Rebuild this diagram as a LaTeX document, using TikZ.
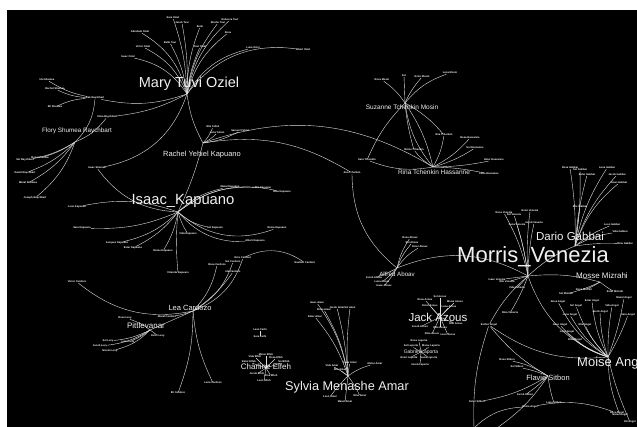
\documentclass[tikz,border=0pt]{standalone}
\usepackage{fontspec}
\setmainfont{Liberation Sans}
\usetikzlibrary{positioning}
\tikzstyle{every node}+=[inner sep=0pt]
\tikzstyle{leaf} = [text=white, font=\bfseries\fontsize{2.6}{3}\selectfont]
\tikzstyle{hub} = [text=white!94!black]
\tikzstyle{line} = [draw=white!88!black, line width=0.4pt]

\begin{document}
\begin{tikzpicture}[x=1pt, y=-1pt]
  % Frame
  \useasboundingbox (0,0) rectangle (637,427);
  \fill[white] (0,0) rectangle (637,427);
  \fill[black] (7,10) rectangle (637,427);
  % Hub points
  \coordinate (maryc) at (187,94);
  \coordinate (floryc) at (75,142);
  \coordinate (rachelc) at (203,143);
  \coordinate (isaacc) at (178,212);
  \coordinate (leac) at (193,311);
  \coordinate (pittc) at (150,330);
  \coordinate (charc) at (266,368);
  \coordinate (sylviac) at (348,376);
  \coordinate (alfredc) at (397,268);
  \coordinate (jackc) at (440,317);
  \coordinate (gabrc) at (421,352);
  \coordinate (morrisc) at (528,276);
  \coordinate (darioc) at (575,246);
  \coordinate (mossec) at (600,282);
  \coordinate (moisec) at (608,357);
  \coordinate (flaviec) at (548,376);
  \coordinate (suzc) at (405,103);
  \coordinate (rinac) at (433,167);
  \coordinate (bot1) at (474,428);
  \coordinate (bot2) at (497,428);
  % Shared nodes
  \node [leaf] (fs1) at (95,98) {Isak Raychbart};
  \node [leaf] (fs2) at (107,117) {Clara Raychbart};
  \node [leaf] (fs3) at (97,168) {Isaac Shumea};
  \node [leaf] (fl1) at (47,80) {Ida Shumea};
  \node [leaf] (fl2) at (55,89) {Rachel Shumea};
  \node [leaf] (fl3) at (55,107) {Eli Shumea};
  \node [leaf] (ana) at (352,173) {Ana Tchenkin};
  \node [leaf] (ena) at (444,135) {Ena Tchenkin};
  \node [leaf] (mid) at (414,150) {Moise Tchenkin};
  \node [leaf] (sara) at (367,160) {Sara Tchenkin};
  \node [leaf] (esther) at (489,325) {Esther Angel};
  \node [leaf] (reuben) at (305,263) {Reuben Cardozo};
  \node [leaf] (reina) at (530,407) {Reina Angel};
  \node [leaf] (dora) at (617,413) {Dora Angel};
  \node [leaf] (farhi1) at (260,330) {Leon Farhi};
  \node [leaf] (farhi2) at (260,337) {Sara Farhi};
  % Fans
  \foreach \x/\y/\b/\t [count=\i] in {173/18/-8/Sara Oziel, 182/23/-6/Jacob Tuvi,
      200/27/10/Ester, 218/23/14/Moshe Tuvi, 230/20/18/Rebecca Tuvi,
      140/32/-22/Abraham Oziel, 228/33/18/Rosa, 143/47/-20/Victor Oziel,
      170/43/-10/Bella Tuvi, 200/47/8/Tuvi Oziel, 253/48/22/Luna Oziel,
      303/50/30/Albert Oziel, 128/57/-22/Isaac Oziel}{
    \node [leaf] (mary\i) at (\x,\y) {\t};
    \path [line] (maryc) to[bend left=\b] (mary\i);
  }
  \foreach \x/\y/\b/\t [count=\i] in {25/160/10/Sol Raychbart, 40/158/8/Rosa Shumea,
      25/173/12/David Raychbart, 28/183/12/Mazal Shumea, 35/198/15/Joseph Raychbart}{
    \node [leaf] (flory\i) at (\x,\y) {\t};
    \path [line] (floryc) to[bend left=\b] (flory\i);
  }
  \foreach \x/\y/\b/\t [count=\i] in {213/127/-10/Elie Yehiel, 217/133/-10/Luna Yehiel,
      240/131/-10/Samuel Yehiel}{
    \node [leaf] (rachel\i) at (\x,\y) {\t};
    \path [line] (rachelc) to[bend left=\b] (rachel\i);
  }
  \foreach \x/\y/\b/\t [count=\i] in {77/207/-15/Leon Kapuano, 230/187/15/Mazal Kapuano,
      263/188/20/Elie Kapuano, 282/192/25/Rina Kapuano, 82/228/12/Sara Kapuano,
      117/243/15/Jacques Kapuano, 133/248/12/Ester Kapuano, 163/251/10/Moise Kapuano,
      188/234/-8/Vida Kapuano, 215/228/-15/Sol Kapuano, 255/241/-25/Albert Kapuano,
      277/228/-30/Reina Kapuano, 178/273/-5/Yolanda Kapuano}{
    \node [leaf] (isaac\i) at (\x,\y) {\t};
    \path [line] (isaacc) to[bend left=\b] (isaac\i);
  }
  \foreach \x/\y/\b/\t [count=\i] in {77/282/25/Victor Cardozo, 217/265/-15/Rosa Cardozo,
      233/262/-20/Sol Cardozo, 243/258/-25/Ezra Cardozo, 233/272/-10/Ida Cardozo,
      213/383/-10/Luna Cardozo, 178/393/10/Eli Cardozo, 167/317/5/Mazal Cardozo}{
    \node [leaf] (lea\i) at (\x,\y) {\t};
    \path [line] (leac) to[bend left=\b] (lea\i);
  }
  \foreach \x/\y/\b/\t [count=\i] in {125/318/-10/Rosa Levy, 158/336/5/Ester Levy,
      108/341/10/Sol Levy, 100/346/12/Jacob Levy, 110/351/15/Nissim Levy,
      128/342/8/Luna Levy}{
    \node [leaf] (pitt\i) at (\x,\y) {\t};
    \path [line] (pittc) to[bend left=\b] (pitt\i);
  }
  \foreach \x/\y/\t [count=\i] in {255/357/Vida Elfeh, 266/355/Moise Elfeh,
      276/358/Rosa Elfeh, 249/362/Ester Elfeh, 284/362/Sol Elfeh,
      257/374/Jacob Elfeh, 271/376/Rina Elfeh, 264/381/Leon Elfeh}{
    \node [leaf] (char\i) at (\x,\y) {\t};
    \path [line] (charc) -- (char\i);
  }
  \foreach \x/\y/\b/\t [count=\i] in {324/310/-10/Rosa Amar, 337/308/-5/Jacob Amar,
      350/308/5/Sol Amar, 317/303/-12/Isaac Amar, 315/317/-10/Ester Amar,
      350/363/5/Luna Amar, 375/364/10/Moise Amar, 332/366/-5/Vida Amar,
      340/370/0/Elie Amar, 360/396/5/Rina Amar, 345/402/0/Mazal Amar,
      330/397/-5/Leon Amar}{
    \node [leaf] (sylvia\i) at (\x,\y) {\t};
    \path [line] (sylviac) to[bend left=\b] (sylvia\i);
  }
  \foreach \x/\y/\b/\t [count=\i] in {410/238/10/Rosa Aboav, 412/243/10/Sol Aboav,
      420/247/12/Ester Aboav, 374/278/5/Jacob Aboav, 382/282/5/Luna Aboav,
      384/286/5/Isaac Aboav}{
    \node [leaf] (alfred\i) at (\x,\y) {\t};
    \path [line] (alfredc) to[bend left=\b] (alfred\i);
  }
  \foreach \x/\y/\t [count=\i] in {425/300/Rosa Azous, 440/297/Sol Azous,
      455/302/Moise Azous, 430/306/Ester Azous, 449/307/Luna Azous,
      420/327/Jacob Azous, 440/328/Vida Azous, 456/324/Elie Azous,
      432/334/Rina Azous, 448/335/Leon Azous}{
    \node [leaf] (jack\i) at (\x,\y) {\t};
    \path [line] (jackc) -- (jack\i);
  }
  \foreach \x/\y/\t [count=\i] in {419/341/Rosa Laporta, 411/346/Sol Laporta,
      431/346/Moise Laporta, 409/358/Ester Laporta, 429/358/Luna Laporta,
      420/365/Jacob Laporta}{
    \node [leaf] (gabr\i) at (\x,\y) {\t};
    \path [line] (gabrc) -- (gabr\i);
  }
  \foreach \x/\y/\b/\t [count=\i] in {504/213/-8/Rosa Venezia, 514/215/-5/Sol Venezia,
      530/211/5/Ester Venezia, 517/225/-5/Luna Venezia, 534/223/5/Jacob Venezia,
      497/280/0/Isaac Venezia, 507/282/0/Elie Venezia, 517/288/0/Vida Venezia,
      510/313/5/Rina Venezia}{
    \node [leaf] (morris\i) at (\x,\y) {\t};
    \path [line] (morrisc) to[bend left=\b] (morris\i);
  }
  \foreach \x/\y/\b/\t [count=\i] in {570/168/-5/Rosa Gabbai, 580/170/-5/Sol Gabbai,
      587/175/5/Ester Gabbai, 607/168/10/Luna Gabbai, 617/175/12/Jacob Gabbai,
      619/183/15/Isaac Gabbai, 580/207/0/Elie Gabbai, 620/232/10/Vida Gabbai,
      625/244/5/Rina Gabbai, 612/225/8/Leon Gabbai}{
    \node [leaf] (dario\i) at (\x,\y) {\t};
    \path [line] (darioc) to[bend left=\b] (dario\i);
  }
  \foreach \x/\y/\b/\t [count=\i] in {584/290/5/Rosa Mizrahi, 566/294/5/Sol Mizrahi,
      615/292/-5/Ester Mizrahi}{
    \node [leaf] (mosse\i) at (\x,\y) {\t};
    \path [line] (mossec) to[bend left=\b] (mosse\i);
  }
  \foreach \x/\y/\b/\t [count=\i] in {558/302/15/Rosa Angel, 576/306/12/Sol Angel,
      592/301/10/Ester Angel, 570/315/12/Luna Angel, 600/312/8/Jacob Angel,
      560/325/15/Isaac Angel, 585/325/10/Elie Angel, 612/306/5/Vida Angel,
      575/340/10/Rina Angel, 567/332/12/Leon Angel, 624/298/-5/Mazal Angel,
      628/315/-5/Sara Angel, 620/415/-10/Moise Angel, 630/422/-5/Eli Angel}{
    \node [leaf] (moise\i) at (\x,\y) {\t};
    \path [line] (moisec) to[bend left=\b] (moise\i);
  }
  \foreach \x/\y/\b/\t [count=\i] in {507/360/-10/Rosa Sitbon, 517/367/-5/Sol Sitbon,
      477/402/10/Ester Sitbon, 554/403/-5/Luna Sitbon, 525/395/5/Jacob Sitbon}{
    \node [leaf] (flavie\i) at (\x,\y) {\t};
    \path [line] (flaviec) to[bend left=\b] (flavie\i);
  }
  \foreach \x/\y/\b/\t [count=\i] in {382/80/-10/Rosa Mosin, 404/76/0/Sol,
      422/77/8/Ester Mosin, 450/73/15/Luna Mosin}{
    \node [leaf] (suz\i) at (\x,\y) {\t};
    \path [line] (suzc) to[bend left=\b] (suz\i);
  }
  \foreach \x/\y/\b/\t [count=\i] in {470/138/-10/Rosa Hassanne, 475/148/-8/Sol Hassanne,
      494/160/-5/Ester Hassanne, 489/174/5/Luna Hassanne}{
    \node [leaf] (rina\i) at (\x,\y) {\t};
    \path [line] (rinac) to[bend left=\b] (rina\i);
  }
  % Cross edges
  \path [line] (floryc) to[bend right=20] (fs1);
  \path [line] (floryc) to[bend right=15] (fs2);
  \path [line] (fl1) to[bend right=10] (fs1);
  \path [line] (fl2) to[bend right=10] (fs1);
  \path [line] (fl3) to[bend left=10] (fs1);
  \path [line] (maryc) to[bend left=15] (fs1);
  \path [line] (maryc) to[bend left=10] (fs2);
  \path [line] (maryc) to[bend left=30] (fs3);
  \path [line] (fs3) to[bend right=25] (isaacc);
  \path [line] (maryc) to[bend right=10] (rachelc);
  \path [line] (rachelc) to[bend left=5] (isaacc);
  \path [line] (rachelc) to[bend left=25] (rinac);
  \path [line] (rachelc) to[bend left=20] (ana);
  \path [line] (ana) to[bend right=25] (alfredc);
  \path [line] (alfredc) to[bend left=25] (morrisc);
  \path [line] (leac) to (pittc);
  \path [line] (lea4) to[bend left=30] (reuben);
  \path [line] (farhi1) -- (farhi2);
  \path [line] (suzc) to[bend left=10] (rinac);
  \path [line] (suzc) to[bend right=15] (rinac);
  \path [line] (suzc) to[bend left=10] (ena);
  \path [line] (suzc) to[bend right=5] (mid);
  \path [line] (suzc) to[bend right=10] (sara);
  \path [line] (rinac) to[bend right=10] (ena);
  \path [line] (rinac) to[bend left=10] (mid);
  \path [line] (rinac) to[bend left=15] (sara);
  \path [line] (morrisc) to[bend left=10] (darioc);
  \path [line] (morrisc) to[bend left=10] (mossec);
  \path [line] (morrisc) to[bend right=10] (esther);
  \path [line] (moisec) to[bend left=25] (morrisc);
  \path [line] (moisec) to[bend left=20] (esther);
  \path [line] (esther) to[bend right=10] (flaviec);
  \path [line] (esther) to[bend right=10] (bot1);
  \path [line] (flaviec) to[bend left=10] (bot2);
  \path [line] (bot1) to[bend left=20] (reina);
  \path [line] (reina) to[bend left=15] (dora);
  % Labels
  \node [hub, font=\fontsize{14.5}{15}\selectfont] (mary) at (189,84) {Mary Tuvi Oziel};
  \node [hub, font=\fontsize{6.3}{7}\selectfont] (flory) at (77,131) {Flory Shumea Raychbart};
  \node [hub, font=\fontsize{7.5}{8}\selectfont] (rachel) at (202,155) {Rachel Yehiel Kapuano};
  \node [hub, font=\fontsize{14.8}{15}\selectfont] (isaac) at (183,201) {Isaac\_Kapuano};
  \node [hub, font=\fontsize{6.5}{7}\selectfont] (suz) at (402,107) {Suzanne Tchenkin Mosin};
  \node [hub, font=\fontsize{6.5}{7}\selectfont] (rina) at (434,172) {Rina Tchenkin Hassanne};
  \node [hub, font=\fontsize{6.2}{7}\selectfont] (alfred) at (397,274) {Alfred Aboav};
  \node [hub, font=\fontsize{7.5}{8}\selectfont] (lea) at (190,308) {Lea Cardozo};
  \node [hub, font=\fontsize{8}{9}\selectfont] (pitt) at (146,326) {Pittlevanar};
  \node [hub, font=\fontsize{8}{9}\selectfont] (char) at (266,367) {Charline Elfeh};
  \node [hub, font=\fontsize{12.7}{13}\selectfont] (sylvia) at (347,387) {Sylvia Menashe Amar};
  \node [hub, font=\fontsize{11.5}{12}\selectfont] (jack) at (438,317) {Jack Azous};
  \node [hub, font=\fontsize{5}{6}\selectfont] (gabr) at (421,352) {Gabriel Laporta};
  \node [hub, font=\fontsize{22}{22}\selectfont] (morris) at (533,257) {Morris\_Venezia};
  \node [hub, font=\fontsize{11.5}{12}\selectfont] (dario) at (570,236) {Dario Gabbai};
  \node [hub, font=\fontsize{8}{9}\selectfont] (mosse) at (602,276) {Mosse Mizrahi};
  \node [hub, font=\fontsize{13}{14}\selectfont, anchor=west] (moise) at (577,363) {Moise Angel};
  \node [hub, font=\fontsize{7.5}{8}\selectfont] (flavie) at (548,378) {Flavie Sitbon};
\end{tikzpicture}
\end{document}
